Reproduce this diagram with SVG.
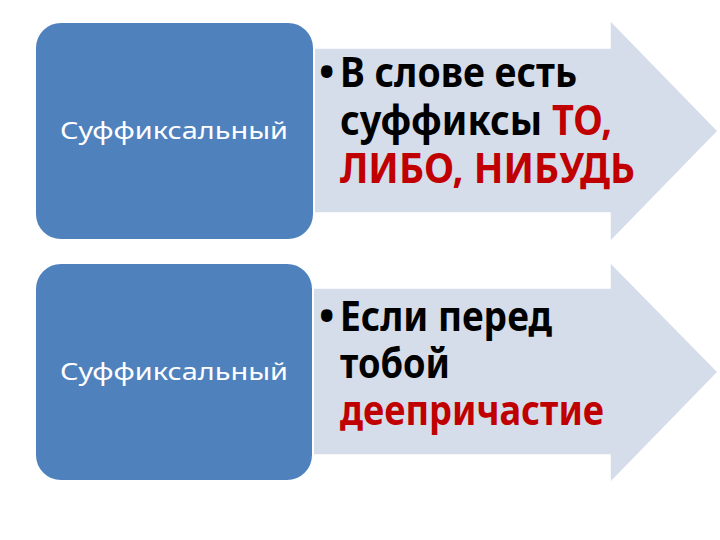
<svg xmlns="http://www.w3.org/2000/svg" width="720" height="540" viewBox="0 0 720 540">
  <style>
    .box { fill: #4f81bd; stroke: #ffffff; stroke-width: 2; }
    .arrow { fill: #d5dcea; stroke: #ffffff; stroke-width: 1.5; }
    .lbl { font-family: "Noto Sans", "Open Sans", sans-serif; font-size: 23px; fill: #ffffff; }
    .txt { font-family: "Noto Sans", "Open Sans", sans-serif; font-size: 41px; font-weight: bold; fill: #000000; }
    .red { fill: #c00000; }
  </style>
  <rect width="720" height="540" fill="#ffffff"/>

  <g id="arrow1">
    <polygon class="arrow" points="290,48 610,48 610,20 718,131 610,242 610,213 290,213"/>
    <text class="txt" x="319" y="87" font-size="40">•</text>
    <text class="txt" x="340" y="87" textLength="237" lengthAdjust="spacingAndGlyphs">В слове есть</text>
    <text class="txt" x="340" y="135" textLength="272" lengthAdjust="spacingAndGlyphs">суффиксы <tspan class="red">ТО,</tspan></text>
    <text class="txt red" x="340" y="183" textLength="295" lengthAdjust="spacingAndGlyphs">ЛИБО, НИБУДЬ</text>
  </g>

  <g id="box1">
    <rect class="box" x="35" y="22" width="279" height="218" rx="26" ry="26"/>
    <text class="lbl" x="60" y="139" textLength="228" lengthAdjust="spacingAndGlyphs">Суффиксальный</text>
  </g>

  <g id="arrow2">
    <polygon class="arrow" points="290,288 610,288 610,262 718,372 610,483 610,455 290,455"/>
    <text class="txt" x="319" y="331" font-size="40">•</text>
    <text class="txt" x="340" y="331" textLength="212" lengthAdjust="spacingAndGlyphs">Если перед</text>
    <text class="txt" x="340" y="378" textLength="110" lengthAdjust="spacingAndGlyphs">тобой</text>
    <text class="txt red" x="340" y="425" textLength="264" lengthAdjust="spacingAndGlyphs">деепричастие</text>
  </g>

  <g id="box2">
    <rect class="box" x="35" y="263" width="278" height="218" rx="26" ry="26"/>
    <text class="lbl" x="60" y="380" textLength="228" lengthAdjust="spacingAndGlyphs">Суффиксальный</text>
  </g>
</svg>
